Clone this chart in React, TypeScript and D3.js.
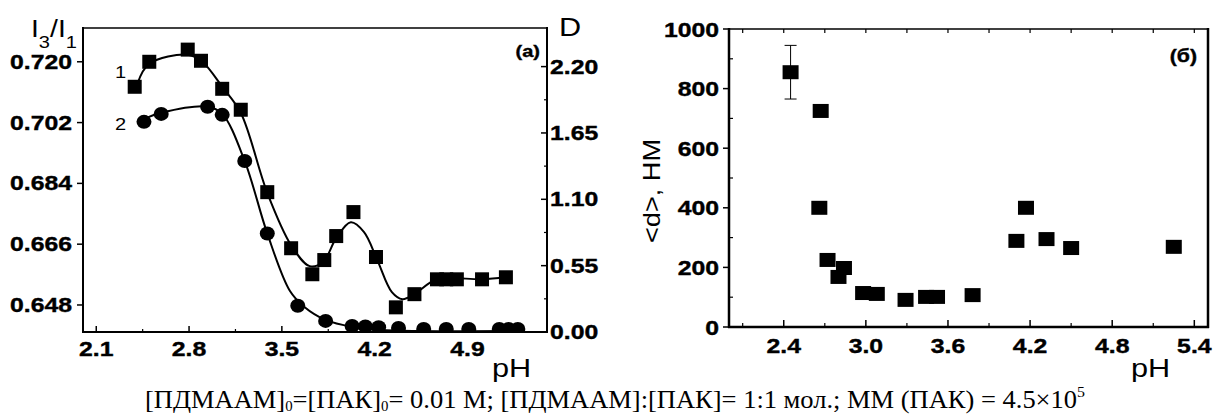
import React, { useEffect, useRef } from 'react';
import * as d3 from 'd3';

const W = 1216;
const H = 416;

// panel (а): curve 1, squares, left axis I3/I1
const phSq = [2.39, 2.5, 2.79, 2.89, 3.05, 3.19, 3.39, 3.57, 3.73, 3.82, 3.91, 4.04, 4.21, 4.36, 4.5, 4.67, 4.74, 4.82, 5.01, 5.19];
const ratioSq = [0.7126, 0.72, 0.7236, 0.7203, 0.712, 0.7058, 0.6814, 0.6648, 0.6571, 0.6613, 0.6684, 0.6755, 0.6622, 0.6473, 0.6512, 0.6556, 0.6556, 0.6556, 0.6556, 0.6562];
// smooth fit drawn through curve 1
const phFit1 = [2.41, 2.5, 2.79, 2.9, 3.05, 3.19, 3.39, 3.57, 3.71, 3.81, 3.91, 4.02, 4.12, 4.22, 4.33, 4.41, 4.5, 4.67, 5.01, 5.19];
const ratioFit1 = [0.7135, 0.7194, 0.7221, 0.72, 0.7126, 0.7049, 0.6812, 0.6657, 0.6595, 0.6607, 0.6678, 0.6725, 0.6696, 0.6613, 0.6518, 0.6497, 0.6512, 0.6556, 0.6556, 0.6562];

// panel (а): curve 2, circles, right axis D
const phCi = [2.46, 2.59, 2.94, 3.05, 3.22, 3.39, 3.62, 3.83, 4.03, 4.13, 4.23, 4.38, 4.57, 4.74, 4.91, 5.14, 5.21, 5.28];
const dCi = [1.742, 1.808, 1.867, 1.8, 1.417, 0.817, 0.217, 0.092, 0.05, 0.045, 0.04, 0.033, 0.025, 0.025, 0.025, 0.025, 0.025, 0.025];
const phFit2 = [2.48, 2.59, 2.94, 3.05, 3.22, 3.39, 3.56, 3.67, 3.83, 4.03, 4.24, 5.29];
const dFit2 = [1.775, 1.817, 1.867, 1.808, 1.417, 0.817, 0.342, 0.208, 0.1, 0.042, 0.017, 0.008];

// panel (б): particle size
const phSize = [2.45, 2.67, 2.66, 2.72, 2.8, 2.84, 2.98, 3.08, 3.29, 3.44, 3.52, 3.78, 4.1, 4.17, 4.32, 4.5, 5.25];
const sizeNm = [855, 725, 400, 225, 168, 198, 114, 111, 91, 101, 101, 107, 289, 400, 295, 265, 269];
const errNm = [90, 0, 0, 0, 0, 0, 0, 0, 0, 0, 0, 0, 0, 0, 0, 0, 0];

const xTicksA = [2.1, 2.8, 3.5, 4.2, 4.9];
const xMinorA = [2.45, 3.15, 3.85, 4.55, 5.25];
const yTicksL = [0.648, 0.666, 0.684, 0.702, 0.72];
const yTicksR = [0, 0.55, 1.1, 1.65, 2.2];
const yMinorR = [0.275, 0.825, 1.375, 1.925];
const xTicksB = [2.4, 3.0, 3.6, 4.2, 4.8, 5.4];
const xMinorB = [2.1, 2.7, 3.3, 3.9, 4.5, 5.1];
const yTicksB = [0, 200, 400, 600, 800, 1000];
const yMinorB = [100, 300, 500, 700, 900];

const FONT = '"Liberation Sans", Arial, sans-serif';
const SX = 1.18; // glyphs in the figure are a bit wider than Arial

type G = d3.Selection<SVGGElement, unknown, null, undefined>;

function label(g: G, x: number, y: number, s: string, size: number, bold = false, anchor = 'start') {
  return g.append('text')
    .attr('transform', `translate(${x},${y}) scale(${SX},1)`)
    .attr('font-family', FONT)
    .attr('font-size', size)
    .attr('font-weight', bold ? 'bold' : 'normal')
    .attr('text-anchor', anchor)
    .attr('fill', '#000')
    .attr('stroke', bold ? '#000' : 'none')
    .attr('stroke-width', bold ? 0.4 : 0)
    .text(s);
}

function line(g: G, x1: number, y1: number, x2: number, y2: number, w: number) {
  g.append('line').attr('x1', x1).attr('y1', y1).attr('x2', x2).attr('y2', y2)
    .attr('stroke', '#000').attr('stroke-width', w);
}

const App: React.FC = () => {
  const svgRef = useRef<SVGSVGElement>(null);

  useEffect(() => {
    if (!svgRef.current) return;
    const svg = d3.select(svgRef.current);
    svg.selectAll('*').remove();
    const g = svg.append('g') as G;

    // ---------- panel (а) ----------
    const x = d3.scaleLinear().domain([2.0, 5.5]).range([83, 547]);
    const yL = d3.scaleLinear().domain([0.64, 0.73]).range([332, 28]);
    const yR = d3.scaleLinear().domain([0, 2.52]).range([332, 28]);

    svg.append('defs').append('clipPath').attr('id', 'clipA')
      .append('rect').attr('x', 83).attr('y', 28).attr('width', 464).attr('height', 304);

    const plotA = g.append('g').attr('clip-path', 'url(#clipA)') as G;

    const fit1 = phFit1.map((p, i) => [p, ratioFit1[i]] as [number, number]);
    const fit2 = phFit2.map((p, i) => [p, dFit2[i]] as [number, number]);
    plotA.append('path')
      .attr('d', d3.line<[number, number]>().x(d => x(d[0])).y(d => yL(d[1])).curve(d3.curveCatmullRom.alpha(0.5))(fit1))
      .attr('fill', 'none').attr('stroke', '#000').attr('stroke-width', 2);
    plotA.append('path')
      .attr('d', d3.line<[number, number]>().x(d => x(d[0])).y(d => yR(d[1])).curve(d3.curveCatmullRom.alpha(0.5))(fit2))
      .attr('fill', 'none').attr('stroke', '#000').attr('stroke-width', 2);

    plotA.selectAll('rect.sq').data(phSq).join('rect').attr('class', 'sq')
      .attr('x', d => x(d) - 7).attr('y', (_, i) => yL(ratioSq[i]) - 7)
      .attr('width', 14).attr('height', 14).attr('fill', '#000');
    plotA.selectAll('ellipse.ci').data(phCi).join('ellipse').attr('class', 'ci')
      .attr('cx', d => x(d)).attr('cy', (_, i) => yR(dCi[i]))
      .attr('rx', 7.5).attr('ry', 7).attr('fill', '#000');

    // frame
    line(g, 83, 28, 547, 28, 1.5);
    line(g, 83, 27, 83, 333, 2);
    line(g, 82, 332, 548, 332, 2);
    line(g, 547, 27, 547, 333, 2);

    xTicksA.forEach(t => {
      line(g, x(t), 332, x(t), 326, 1.5);
      label(g, x(t), 356, d3.format('.1f')(t), 21, true, 'middle');
    });
    xMinorA.forEach(t => line(g, x(t), 332, x(t), 329, 1.2));
    yTicksL.forEach(t => {
      line(g, 83, yL(t), 77, yL(t), 1.5);
      label(g, 72, yL(t) + 7, d3.format('.3f')(t), 21, true, 'end');
    });
    yTicksR.forEach(t => {
      line(g, 547, yR(t), 541, yR(t), 1.5);
      label(g, 550, yR(t) + 7, d3.format('.2f')(t), 21, true, 'start');
    });
    yMinorR.forEach(t => line(g, 547, yR(t), 544, yR(t), 1.2));

    // axis titles panel (а)
    const it = g.append('text').attr('transform', `translate(31,37) scale(${SX},1)`)
      .attr('font-family', FONT).attr('font-size', 24);
    it.append('tspan').text('I');
    it.append('tspan').attr('font-size', 17).attr('dy', 11).text('3');
    it.append('tspan').attr('dy', -11).text('/I');
    it.append('tspan').attr('font-size', 17).attr('dy', 11).text('1');
    label(g, 559, 36, 'D', 26);
    label(g, 492, 377, 'pH', 26);
    label(g, 540, 57, '(a)', 17, true, 'end');
    label(g, 115, 78, '1', 17);
    label(g, 115, 130, '2', 17);

    // ---------- panel (б) ----------
    const x2 = d3.scaleLinear().domain([2.0, 5.5]).range([729, 1208]);
    const y2 = d3.scaleLinear().domain([0, 1000]).range([327, 29]);

    phSize.forEach((p, i) => {
      const e = errNm[i];
      if (!e) return;
      const cx = x2(p);
      line(g, cx, y2(sizeNm[i] - e), cx, y2(sizeNm[i] + e), 1);
      line(g, cx - 6, y2(sizeNm[i] + e), cx + 6, y2(sizeNm[i] + e), 1);
      line(g, cx - 6, y2(sizeNm[i] - e), cx + 6, y2(sizeNm[i] - e), 1);
    });
    g.selectAll('rect.sz').data(phSize).join('rect').attr('class', 'sz')
      .attr('x', d => x2(d) - 8).attr('y', (_, i) => y2(sizeNm[i]) - 7)
      .attr('width', 16).attr('height', 14).attr('fill', '#000');

    line(g, 729, 29, 1208, 29, 1.5);
    line(g, 729, 28, 729, 328, 2.5);
    line(g, 728, 327, 1209, 327, 2.5);
    line(g, 1208, 28, 1208, 328, 2.5);

    xTicksB.forEach(t => {
      line(g, x2(t), 327, x2(t), 320, 1.5);
      label(g, x2(t), 353, d3.format('.1f')(t), 21, true, 'middle');
    });
    xMinorB.forEach(t => line(g, x2(t), 327, x2(t), 323, 1.2));
    xTicksB.concat(xMinorB).forEach(t => line(g, x2(t), 29, x2(t), 33, 1.2));
    yTicksB.forEach(t => {
      line(g, 729, y2(t), 723, y2(t), 1.5);
      label(g, 719, y2(t) + 7.5, String(t), 21, true, 'end');
    });
    yMinorB.forEach(t => line(g, 729, y2(t), 733, y2(t), 1.2));

    label(g, 1197, 62, '(б)', 18, true, 'end');
    label(g, 1131, 377, 'pH', 26);
    g.append('text')
      .attr('transform', `translate(660,191) rotate(-90) scale(${SX},1)`)
      .attr('font-family', FONT).attr('font-size', 23).attr('text-anchor', 'middle')
      .text('<d>, НМ');

    // caption
    const cap = g.append('text').attr('x', 145).attr('y', 408)
      .attr('font-family', '"Liberation Serif", "Times New Roman", serif').attr('font-size', 25)
      .attr('textLength', 940).attr('lengthAdjust', 'spacingAndGlyphs');
    cap.append('tspan').text('[ПДМААМ]');
    cap.append('tspan').attr('font-size', 14).attr('dy', 3).text('0');
    cap.append('tspan').attr('dy', -3).text('=[ПАК]');
    cap.append('tspan').attr('font-size', 14).attr('dy', 3).text('0');
    cap.append('tspan').attr('dy', -3).text('= 0.01 М; [ПДМААМ]:[ПАК]= 1:1 мол.; ММ (ПАК) = 4.5×10');
    cap.append('tspan').attr('font-size', 15).attr('dy', -11).text('5');
  }, []);

  return (
    <div style={{ position: 'absolute', left: 0, top: 0, width: W, height: H, background: '#fff' }}>
      <svg ref={svgRef} width={W} height={H} />
    </div>
  );
};

export default App;
